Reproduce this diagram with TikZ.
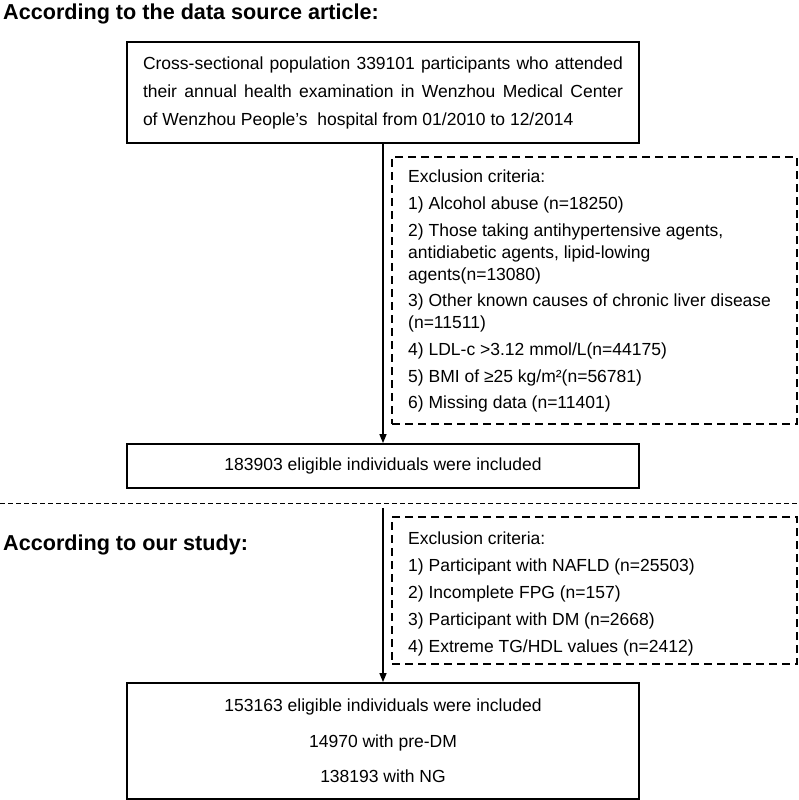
\documentclass[tikz,border=0pt]{standalone}
\usepackage{fontspec}
\setmainfont{Liberation Sans}
\usetikzlibrary{arrows.meta}
\begin{document}
\begin{tikzpicture}[x=1pt,y=-1pt,
  solidbox/.style={draw, line width=1.8pt, inner sep=0pt},
  dashbox/.style={draw, line width=1.4pt, dash pattern=on 8pt off 5pt, inner sep=0pt, minimum width=405pt},
  bodytext/.style={font=\fontsize{17.5}{22}\selectfont},
  titletext/.style={font=\bfseries\fontsize{21.6}{26}\selectfont, anchor=base west, inner sep=0pt},
  listtext/.style={anchor=base west, align=left, inner sep=0pt},
  arr/.style={line width=1.5pt, -{Triangle[length=9pt,width=7pt]}},
  sepline/.style={line width=1pt, dash pattern=on 5pt off 3pt}]

\useasboundingbox (0,0) rectangle (799,800);

% titles
\node[titletext] (t1) at (3,20) {According to the data source article:};
\node[titletext] (t2) at (3,550) {According to our study:};

% source box
\node[solidbox, minimum width=512pt, minimum height=101pt, align=left,
      font=\fontsize{17.5}{28}\selectfont] (src) at (383,92.5)
  {\makebox[480pt][s]{Cross-sectional population 339101 participants who attended}\\
   \makebox[480pt][s]{their annual health examination in Wenzhou Medical Center}\\
   \makebox[480pt][l]{of Wenzhou People’s\ \ hospital from 01/2010 to 12/2014}};

% exclusion box 1
\node[dashbox, minimum height=267pt] (ex1) at (594.5,290.5) {};
\node[listtext, bodytext] (ex1t) at (408,408)
  {Exclusion criteria:\\[5pt]
   1) Alcohol abuse (n=18250)\\[5pt]
   2) Those taking antihypertensive agents,\\
   antidiabetic agents, lipid-lowing\\
   agents(n=13080)\\[4pt]
   3) Other known causes of chronic liver disease\\
   (n=11511)\\[5pt]
   4) LDL-c >3.12 mmol/L(n=44175)\\[5pt]
   5) BMI of ≥25 kg/m²(n=56781)\\[4pt]
   6) Missing data (n=11401)};

% included box 1
\node[solidbox, minimum width=512pt, minimum height=44pt, bodytext] (incl1) at (383,466)
  {183903 eligible individuals were included};

% separator
\coordinate (sepL) at (0,503);
\coordinate (sepR) at (799,503);
\draw[sepline] (sepL) -- (sepR);

% exclusion box 2
\node[dashbox, minimum height=147pt] (ex2) at (594.5,590.5) {};
\node[listtext, font=\fontsize{17.5}{27}\selectfont] (ex2t) at (408,652)
  {Exclusion criteria:\\
   1) Participant with NAFLD (n=25503)\\
   2) Incomplete FPG (n=157)\\
   3) Participant with DM (n=2668)\\
   4) Extreme TG/HDL values (n=2412)};

% included box 2
\node[solidbox, minimum width=512pt, minimum height=116pt, align=center,
      font=\fontsize{17.5}{35.5}\selectfont] (incl2) at (383,741)
  {153163 eligible individuals were included\\
   14970 with pre-DM\\
   138193 with NG};

% arrows
\coordinate (a2s) at (383,508);
\draw[arr] (src.south) -- (incl1.north);
\draw[arr] (a2s) -- (incl2.north);
\end{tikzpicture}
\end{document}
